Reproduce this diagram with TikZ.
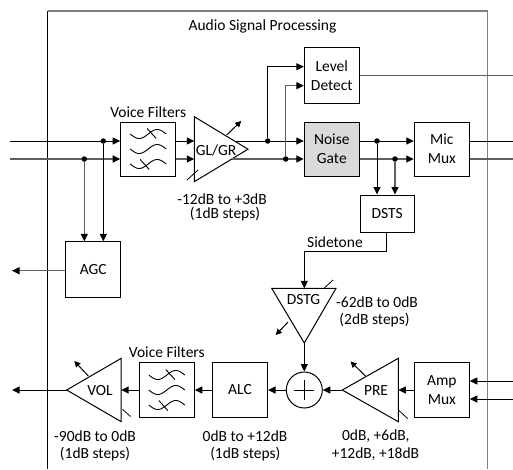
\documentclass[tikz,border=0pt]{standalone}
\usepackage{fontspec}
\setmainfont{Carlito}
\usetikzlibrary{arrows.meta}
\newcommand{\fs}{\fontsize{15.5}{19}\selectfont}
\definecolor{sgray}{HTML}{5F5F5F}
\definecolor{bgray}{HTML}{7F7F7F}
\definecolor{ngfill}{HTML}{D9D9D9}
\tikzset{
  blk/.style={draw, line width=1pt, inner sep=0pt, minimum width=55pt, minimum height=54pt, align=center, font=\fs},
  lbl/.style={inner sep=0pt, align=center, font=\fs},
  sig/.style={line width=1pt, -{Triangle[length=7.5pt,width=7pt]}},
  sigg/.style={line width=1.2pt, draw=sgray, -{Triangle[length=7.5pt,width=7pt,color=black]}},
  wire/.style={line width=1pt},
  wireg/.style={line width=1.2pt, draw=sgray},
  jdot/.style={circle, fill=black, inner sep=0pt, minimum size=5.5pt},
  amp/.style={line width=1pt, fill=white},
  varr/.style={line width=1pt, -{Triangle[length=6pt,width=6pt]}},
  tick/.style={line width=0.8pt},
  wave/.style={line width=0.9pt},
  pics/filt/.style={code={
    \draw[wave] plot[domain=-18:18, samples=40, smooth] (\x,{-15-4.5*sin(10*\x)});
    \draw[wave] plot[domain=-18:18, samples=40, smooth] (\x,{-4.5*sin(10*\x)});
    \draw[wave] plot[domain=-18:18, samples=40, smooth] (\x,{15-4.5*sin(10*\x)});
    \draw[wave] (-1,-20.5) -- (8,-10.5);
    \draw[wave] (-8,10.5) -- (1,20.5);
  }}
}
\begin{document}
\begin{tikzpicture}[x=1pt,y=-1pt]
\useasboundingbox (0,0) rectangle (513,469);
% outer box
\draw[line width=1.1pt, bgray] (47.7,11) -- (487.7,11) -- (487.7,469);
\draw[line width=1pt, black] (47.7,11) -- (47.7,469);
\node[lbl] (title) at (262.5,26) {Audio Signal Processing};

% ---------- top row ----------
\coordinate (in1) at (10,141);
\coordinate (in2) at (10,159);
\node[blk] (vf1) at (148.2,149) {};
\pic at (148.2,149) {filt};
\node[lbl] (vf1l) at (148.2,112) {Voice Filters};

% GL/GR amplifier
\draw[amp] (194.3,116.7) -- (194.3,181.7) -- (248,149.2) -- cycle;
\node[lbl] (glgr) at (216,150) {GL/GR};
\coordinate (g1in) at (194.3,141);
\coordinate (g2in) at (194.3,159);
\coordinate (g1) at (234.5,141);
\coordinate (g2) at (231.8,159);
\coordinate (gva) at (226.7,135);
\coordinate (gvb) at (241.2,121);
\draw[varr] (gva) -- (gvb);
\draw[tick] (187,180) -- (198,170);
\node[lbl] (glgrl) at (222,199) {-12dB to +3dB};
\node[lbl] (glgrs) at (225,214) {(1dB steps)};

\node[blk, minimum height=55.6pt] (ld) at (331.8,75.5) {Level\\Detect};
\node[blk, fill=ngfill] (ng) at (331.8,149) {Noise\\Gate};
\node[blk] (mm) at (441.8,149) {Mic\\Mux};
\node[blk, minimum width=54.3pt, minimum height=37pt] (dsts) at (387.2,213.5) {DSTS};
\node[blk, minimum height=55.6pt] (agc) at (93.2,269.7) {AGC};

% input lines
\draw[sig] (in1) -- (vf1.west |- in1);
\draw[sigg] (in2) -- (vf1.west |- in2);
\node[jdot] (d1) at (103.3,141) {};
\node[jdot] (d2) at (84.3,159) {};
\draw[sig] (d1) -- (d1 |- agc.north);
\draw[sigg] (d2) -- (d2 |- agc.north);
\coordinate (agcout) at (12,270.7);
\draw[sigg] (agc.west |- agcout) -- (agcout);

\draw[sig] (vf1.east |- g1in) -- (g1in);
\draw[sigg] (vf1.east |- g2in) -- (g2in);

\draw[sig] (g1) -- (ng.west |- g1);
\draw[sigg] (g2) -- (ng.west |- g2);
\node[jdot] (d3) at (267.7,141) {};
\node[jdot] (d4) at (285.7,159) {};
\coordinate (ld1) at (304.3,66.7);
\coordinate (ld2) at (304.3,85.7);
\draw[sig] (d3) |- (ld.west |- ld1);
\draw[sigg] (d4) |- (ld.west |- ld2);
\coordinate (ldout) at (513,75.3);
\draw[wireg] (ld.east |- ldout) -- (ldout);

\draw[sig] (ng.east |- g1) -- (mm.west |- g1);
\draw[sigg] (ng.east |- g2) -- (mm.west |- g2);
\node[jdot] (d5) at (377,141) {};
\node[jdot] (d6) at (395,159) {};
\draw[sig] (d5) -- (d5 |- dsts.north);
\draw[sigg] (d6) -- (d6 |- dsts.north);
\coordinate (mo1) at (513,141);
\coordinate (mo2) at (513,159);
\draw[wire] (mm.east |- mo1) -- (mo1);
\draw[wireg] (mm.east |- mo2) -- (mo2);

% ---------- sidetone ----------
\coordinate (dstgtop) at (304.3,288.3);
\coordinate (stc) at (386.7,251);
\draw[sig] (dsts.south -| stc) -- (stc) -| (dstgtop);
\node[lbl] (stl) at (335,242) {Sidetone};

\draw[amp] (271.7,288.3) -- (336,288.3) -- (304.3,343) -- cycle;
\coordinate (dstgap) at (304.3,343);
\node[lbl] (dstg) at (303.5,300) {DSTG};
\coordinate (dva) at (288,322);
\coordinate (dvb) at (275.7,335);
\draw[varr] (dva) -- (dvb);
\draw[tick] (324.3,288) -- (333,280);
\node[lbl] (dstgl) at (377,302) {-62dB to 0dB};
\node[lbl] (dstgs) at (374.5,320.5) {(2dB steps)};

% ---------- bottom row ----------
\node[draw, circle, line width=1pt, minimum size=36pt, inner sep=0pt] (add) at (304.3,390) {};
\draw[line width=1pt] ([xshift=-10pt]add.center) -- ([xshift=10pt]add.center)
                      ([yshift=-10pt]add.center) -- ([yshift=10pt]add.center);
\draw[sig] (dstgap) -- (add.north);

\node[blk, minimum height=55pt] (amux) at (441.8,390) {Amp\\Mux};
\coordinate (ai1) at (513,381);
\coordinate (ai2) at (513,399);
\draw[sig] (ai1) -- (amux.east |- ai1);
\draw[sig] (ai2) -- (amux.east |- ai2);

% PRE amplifier
\draw[amp] (398.3,358.3) -- (398.3,421.7) -- (342.3,390) -- cycle;
\coordinate (preR) at (398.3,390);
\coordinate (preap) at (342.3,390);
\node[lbl] (pre) at (376,391) {PRE};
\coordinate (pva) at (365.5,376);
\coordinate (pvb) at (350.5,361.5);
\draw[varr] (pva) -- (pvb);
\draw[tick] (399,410.5) -- (407.5,418.5);
\node[lbl] (prel) at (375.8,436) {0dB, +6dB,};
\node[lbl] (pres) at (375.5,454) {+12dB, +18dB};

\draw[sig] (amux.west) -- (preR);
\draw[sig] (preap) -- (add.east);

\node[blk, minimum height=55pt] (alc) at (240,390) {ALC};
\node[lbl] (alcl) at (245,436) {0dB to +12dB};
\node[lbl] (alcs) at (245.3,454) {(1dB steps)};
\draw[sig] (add.west) -- (alc.east);

\node[blk, minimum height=55pt] (vf2) at (166.8,390) {};
\pic at (166.8,390) {filt};
\node[lbl] (vf2l) at (166.8,352) {Voice Filters};
\draw[sig] (alc.west) -- (vf2.east);

% VOL amplifier
\draw[amp] (121.2,358.3) -- (121.2,421.7) -- (66.7,390) -- cycle;
\coordinate (volR) at (121.2,390);
\coordinate (volap) at (66.7,390);
\node[lbl] (vol) at (100,391) {VOL};
\coordinate (vva) at (88.3,376);
\coordinate (vvb) at (74.3,361);
\draw[varr] (vva) -- (vvb);
\draw[tick] (122.7,409.5) -- (130.5,416.5);
\node[lbl] (voll) at (95,436) {-90dB to 0dB};
\node[lbl] (vols) at (95,454) {(1dB steps)};
\draw[sig] (vf2.west) -- (volR);
\coordinate (volout) at (12,390);
\draw[sig] (volap) -- (volout);
\end{tikzpicture}
\end{document}
